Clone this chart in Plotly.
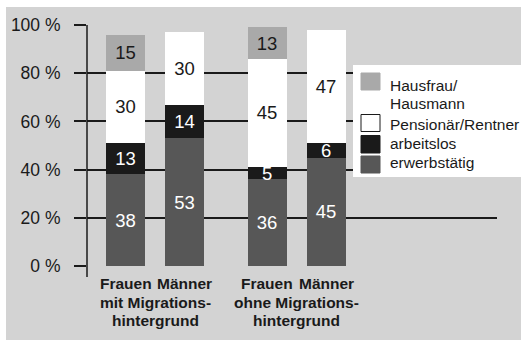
import plotly.graph_objects as go

# Status shares (%) per group
bars = ["Frauen", "Männer", "Frauen", "Männer"]
groups = [["mit Migrations-", "hintergrund"], ["ohne Migrations-", "hintergrund"]]
erwerbstaetig = [38, 53, 36, 45]
arbeitslos = [13, 14, 5, 6]
pensionaer = [30, 30, 45, 47]
hausfrau = [15, None, 13, None]

series_names = ["erwerbstätig", "arbeitslos", "Pensionär/Rentner", "Hausfrau/<br>Hausmann"]
y_ticks = [0, 20, 40, 60, 80, 100]

FONT = "Liberation Sans, Arial, sans-serif"
INK = "#1a1a1a"
BG = "#d3d3d3"
colors = ["#575757", "#1a1a1a", "#ffffff", "#a9a9a9"]
text_colors = ["white", "white", INK, INK]


def font(size, color=INK, bold=False):
    return dict(family=FONT, size=size, color=color,
                weight="bold" if bold else "normal")


W, H = 521, 340
L, R, T, B = 87, 24, 25, 74
PW, PH = W - L - R, H - T - B

# bar centres: pairs of bars, wider gap between the two groups
xpos = [0, 1, 2.4, 3.4]
unit = 59.0
x_range = [-38.5 / unit, (PW - 38.5) / unit]


def px(xp):
    return (xp - L) / PW


def py(yp):
    return (T + PH - yp) / PH


fig = go.Figure()
for vals, name, col, tcol in zip([erwerbstaetig, arbeitslos, pensionaer, hausfrau],
                                 series_names, colors, text_colors):
    fig.add_trace(go.Bar(
        x=xpos, y=vals, name=name, width=39 / unit,
        marker=dict(color=col, line=dict(width=0)),
        text=[("" if v is None else str(v)) for v in vals],
        textposition="inside", insidetextanchor="middle",
        constraintext="none", textangle=0,
        textfont=font(18.5, tcol),
        showlegend=False, hoverinfo="skip",
    ))

shapes = [
    # grey panel behind everything
    dict(type="rect", xref="paper", yref="paper", x0=px(6), x1=px(W + 5),
         y0=py(H + 5), y1=py(7), fillcolor=BG, line=dict(width=0), layer="below"),
    # vertical axis running a little below the baseline
    dict(type="line", xref="paper", yref="paper", x0=0, x1=0, y0=py(277), y1=1,
         line=dict(color=INK, width=1.5), layer="above"),
    # legend box
    dict(type="rect", xref="paper", yref="paper", x0=px(353), x1=px(W + 5),
         y0=py(177), y1=py(65), fillcolor="white", line=dict(width=0), layer="above"),
]

# legend swatches and labels (top to bottom)
legend_rows = [
    (colors[3], 73, 90, ["Hausfrau/", "Hausmann"], [90, 108.3]),
    (colors[2], 114.5, 131.5, ["Pensionär/Rentner"], [129]),
    (colors[1], 135.5, 153, ["arbeitslos"], [148.3]),
    (colors[0], 156, 173, ["erwerbstätig"], [166.7]),
]
annotations = []
for col, top, bot, lines, baselines in legend_rows:
    shapes.append(dict(type="rect", xref="paper", yref="paper",
                       x0=px(361), x1=px(380), y0=py(bot), y1=py(top),
                       fillcolor=col,
                       line=dict(color=INK if col == "#ffffff" else col, width=1),
                       layer="above"))
    for line, base in zip(lines, baselines):
        annotations.append(dict(
            text=line, xref="paper", yref="paper", x=px(388), y=py(base - 4.5),
            xanchor="left", yanchor="middle", showarrow=False,
            font=font(15.5)))

# category labels under the bars
for xp, name in zip(xpos, bars):
    annotations.append(dict(
        text=name, xref="x", yref="paper", x=xp, y=py(283),
        xanchor="center", yanchor="middle", showarrow=False,
        font=font(15.5, bold=True)))
for gi, lines in enumerate(groups):
    xc = (xpos[2 * gi] + xpos[2 * gi + 1]) / 2
    for li, line in enumerate(lines):
        annotations.append(dict(
            text=line, xref="x", yref="paper", x=xc, y=py(302.5 + 18 * li),
            xanchor="center", yanchor="middle", showarrow=False,
            font=font(15.5, bold=True)))

fig.update_layout(
    width=W, height=H,
    margin=dict(l=L, r=R, t=T, b=B, pad=0),
    barmode="stack",
    paper_bgcolor="white", plot_bgcolor="rgba(0,0,0,0)",
    shapes=shapes, annotations=annotations,
    xaxis=dict(range=x_range, showgrid=False, zeroline=False, showline=False,
               showticklabels=False, ticks="", fixedrange=True),
    yaxis=dict(range=[0, 100], tickvals=y_ticks, ticktext=[f"{v} %" for v in y_ticks],
               showgrid=True, gridcolor=INK, gridwidth=1.5, zeroline=False,
               showline=False, ticks="outside", ticklen=12, tickwidth=1.5,
               tickcolor=INK, ticklabelstandoff=10,
               tickfont=font(17.5), fixedrange=True),
)

fig.write_html("out.html")
